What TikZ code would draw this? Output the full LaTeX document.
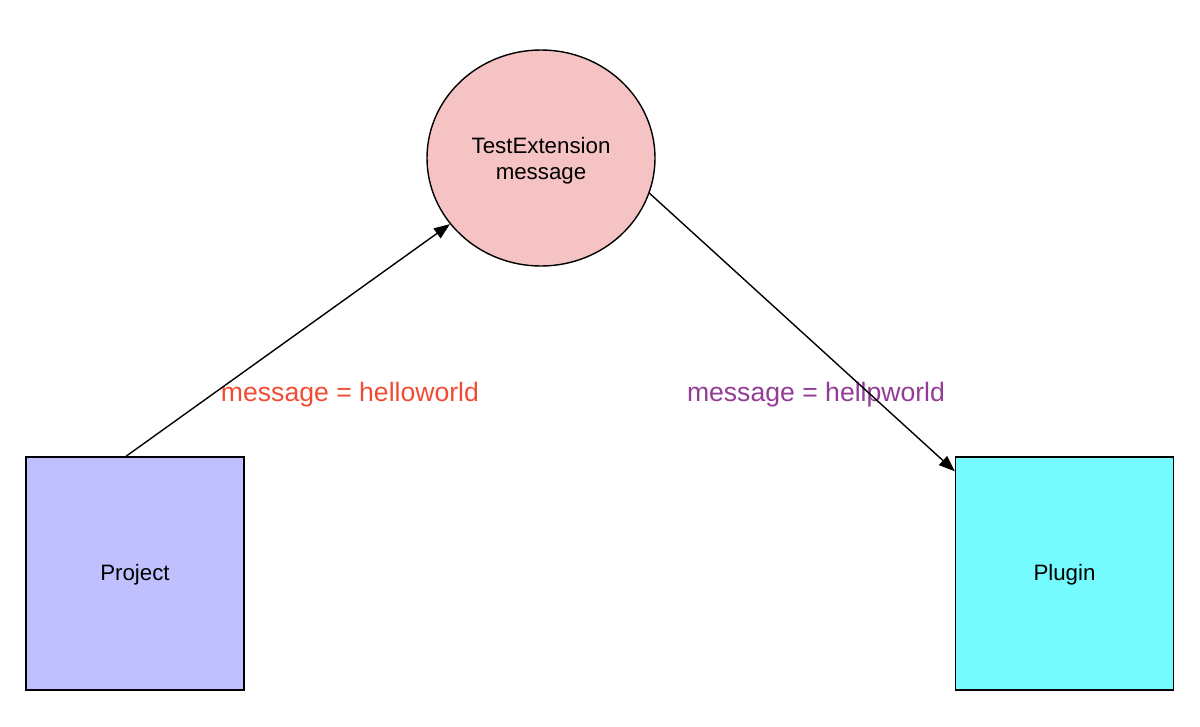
\documentclass[tikz,border=0pt]{standalone}
\usepackage{fontspec}
\setmainfont{Liberation Sans}
\usetikzlibrary{shapes.geometric,arrows.meta}
\definecolor{circfill}{RGB}{245,195,195}
\definecolor{projfill}{RGB}{192,192,255}
\definecolor{plugfill}{RGB}{117,251,253}
\definecolor{redlbl}{RGB}{241,76,51}
\definecolor{purplbl}{RGB}{146,60,150}
\tikzset{
  boxnode/.style={draw=black, line width=1.4pt, minimum width=218pt, minimum height=233pt, inner sep=0pt, font=\fontsize{22.3}{26}\selectfont},
  circnode/.style={ellipse, draw=black, line width=1.4pt, fill=circfill, minimum width=228pt, minimum height=216pt, inner sep=0pt, align=center, font=\fontsize{22.3}{26}\selectfont},
  lbl/.style={inner sep=0pt, font=\fontsize{26.6}{31}\selectfont},
  conn/.style={line width=1.4pt, -{Triangle[length=16pt,width=12pt]}}
}
\begin{document}
\begin{tikzpicture}[x=1pt,y=-1pt]
\useasboundingbox (0,0) rectangle (1200,726);
\node[circnode] (te) at (541,158) {};
\node[inner sep=0pt, align=center, font=\fontsize{22.3}{26}\selectfont] (tet) at (541,160.5) {TestExtension\\message};
\node[boxnode, fill=projfill] (proj) at (135,573.5) {};
\node[inner sep=0pt, font=\fontsize{22.3}{26}\selectfont] (projt) at (135,575) {Project};
\node[boxnode, fill=plugfill] (plug) at (1064.5,573.5) {};
\node[inner sep=0pt, font=\fontsize{22.3}{26}\selectfont] (plugt) at (1064.5,575) {Plugin};
\node[lbl, text=redlbl] (l1) at (350,395) {message = helloworld};
\node[lbl, text=purplbl] (l2) at (816,395) {message = hellpworld};
\draw[conn] ([xshift=-9pt]proj.north) -- (te.216);
\draw[conn] (te.342) -- ([yshift=-15pt]plug.north west);
\end{tikzpicture}
\end{document}
